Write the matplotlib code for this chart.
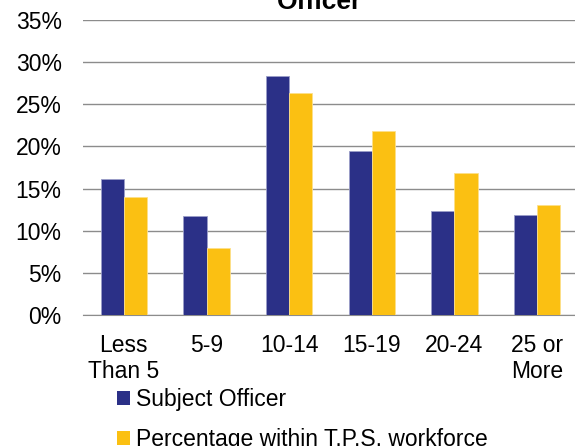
import matplotlib.pyplot as plt
import numpy as np
from matplotlib.patches import Patch
from matplotlib.ticker import FuncFormatter

plt.rcParams['font.family'] = ['Liberation Sans', 'DejaVu Sans']

# Data
categories = ["Less\nThan 5", "5-9", "10-14", "15-19", "20-24", "25 or\nMore"]
subject_officer = [16.1, 11.8, 28.3, 19.5, 12.3, 11.9]
tps_workforce = [14.0, 7.9, 26.3, 21.8, 16.9, 13.0]
series_names = ["Subject Officer", "Percentage within T.P.S. workforce"]

blue = "#2b3087"
yellow = "#fbc012"

fig = plt.figure(figsize=(5.75, 4.46), dpi=100)
ax = fig.add_axes([82.5 / 575, 131 / 446, 496 / 575, 295 / 446])

x = np.arange(len(categories))
w = 0.28
ax.bar(x - w / 2, subject_officer, w, color=blue, edgecolor="#9a9dc8", linewidth=0.6, zorder=3)
ax.bar(x + w / 2, tps_workforce, w, color=yellow, edgecolor="#fde08a", linewidth=0.6, zorder=3)

ax.set_xlim(-0.5, len(categories) - 0.5)
ax.set_ylim(0, 35)
ax.set_yticks(np.arange(0, 36, 5))
ax.yaxis.set_major_formatter(FuncFormatter(lambda v, p: f"{v:.0f}%"))
ax.set_xticks(x)
ax.set_xticklabels(categories, linespacing=1.15)

ax.grid(axis="y", color="#8c8c8c", linewidth=1.0, zorder=0)
for s in ["top", "right", "left"]:
    ax.spines[s].set_visible(False)
ax.spines["bottom"].set_color("#8c8c8c")
ax.tick_params(axis="both", length=0, labelsize=16.5)
ax.tick_params(axis="y", pad=15)
ax.tick_params(axis="x", pad=14)

# title (top line is cropped off in the original)
fig.text(319 / 575, 1 - 8.7 / 446, "Officer", ha="center", va="baseline",
         fontsize=19, fontweight="bold")

handles = [Patch(facecolor=blue), Patch(facecolor=yellow)]
fig.legend(handles, series_names, loc="upper left",
           bbox_to_anchor=(116.7 / 575, (446 - 388) / 446),
           frameon=False, fontsize=16.5, borderpad=0, borderaxespad=0,
           handlelength=0.6, handleheight=0.6, handletextpad=0.25,
           labelspacing=0.75)

fig.savefig("out.png", dpi=100)
